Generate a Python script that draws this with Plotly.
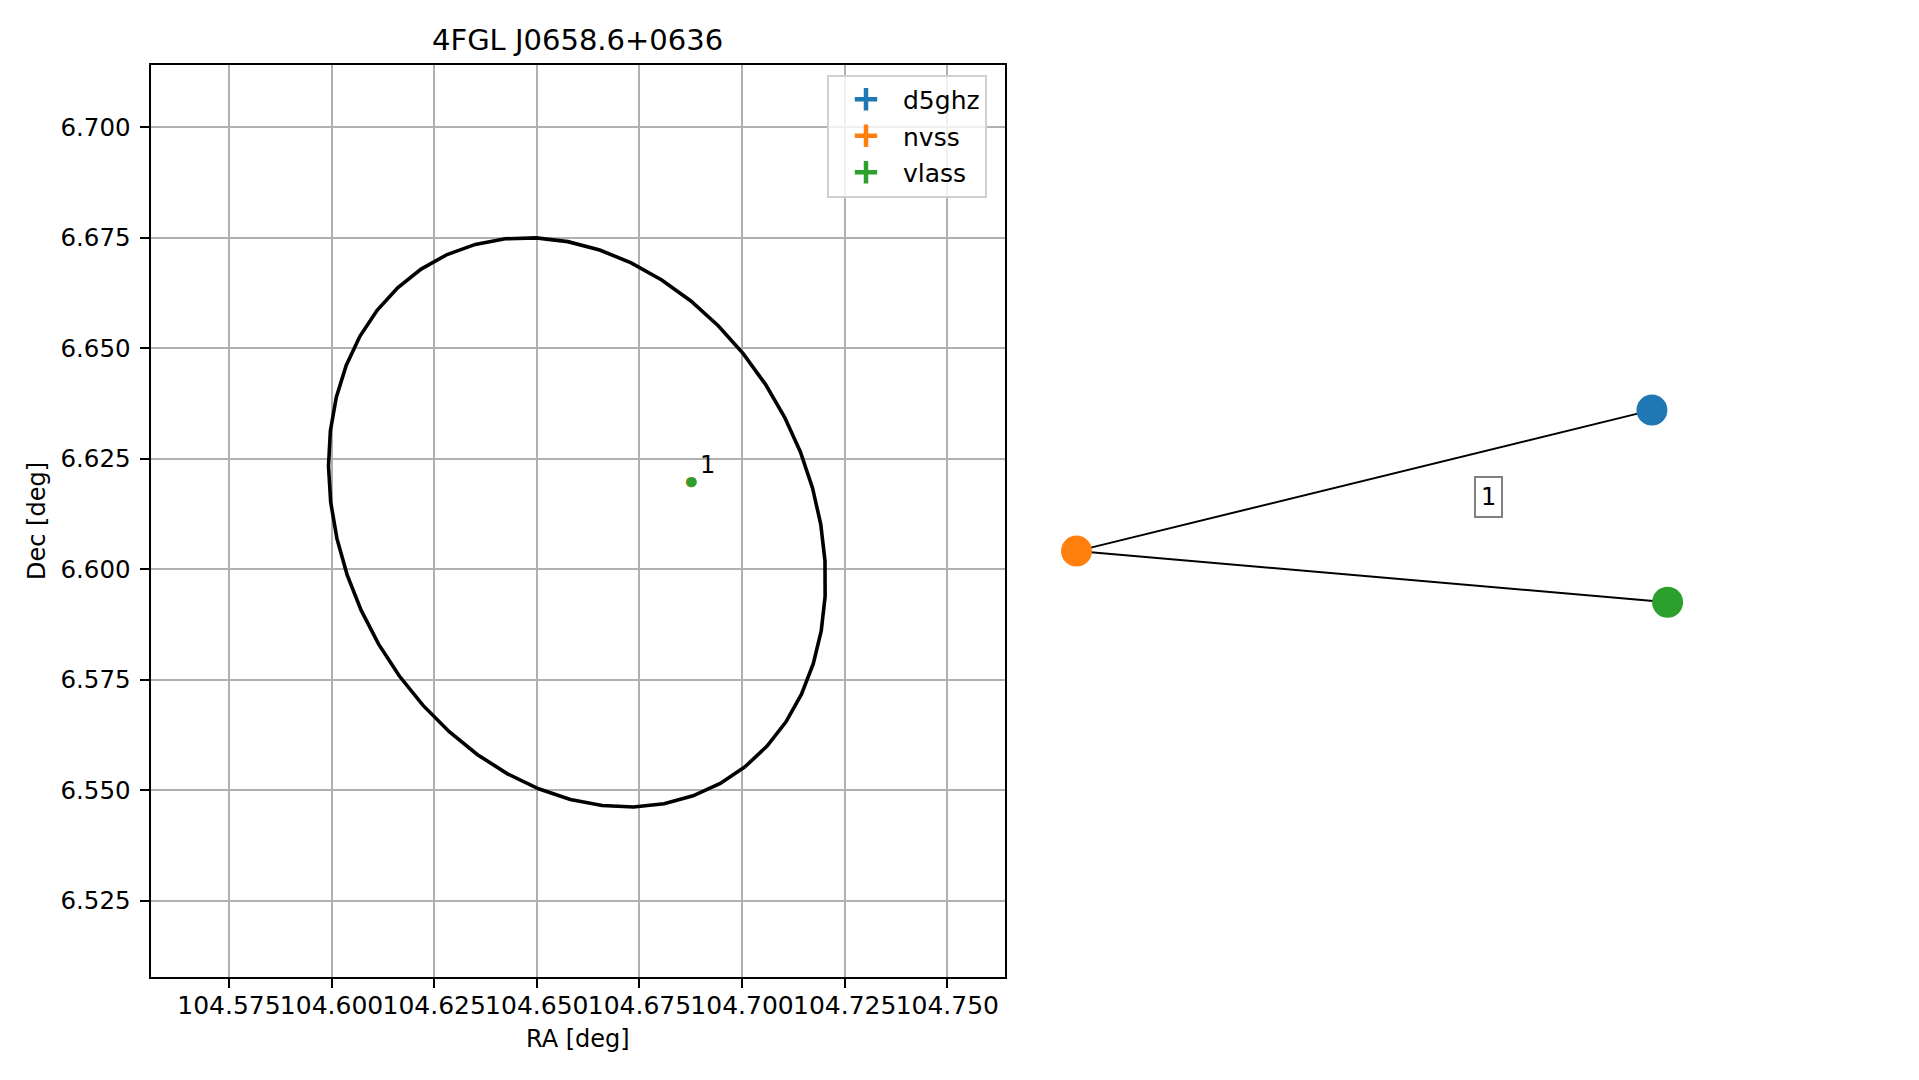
import numpy as np
import plotly.graph_objects as go

W, H = 1919, 1080
OFF = 8  # default page body margin
FW, FH = W - 2 * OFF, H - 2 * OFF
FONT = "DejaVu Sans"

# ---------------- data ----------------
title_text = "4FGL J0658.6+0636"

# 4FGL uncertainty ellipse (deg)
ell_ra = 104.6598
ell_dec = 6.6106
ell_semi_major = 0.0688
ell_semi_minor = 0.0555
ell_angle_deg = -53.5
ell_n_points = 50

src_names = ["d5ghz", "nvss", "vlass"]
src_ra = [104.6877, 104.6875, 104.6877]
src_dec = [6.6197, 6.6197, 6.6197]
src_colors = ["#1f77b4", "#ff7f0e", "#2ca02c"]
src_label = "1"

x_ticks = [104.575, 104.600, 104.625, 104.650, 104.675, 104.700, 104.725, 104.750]
x_tick_text = ["104.575", "104.600", "104.625", "104.650", "104.675", "104.700", "104.725", "104.750"]
y_ticks = [6.525, 6.550, 6.575, 6.600, 6.625, 6.650, 6.675, 6.700]
y_tick_text = ["6.525", "6.550", "6.575", "6.600", "6.625", "6.650", "6.675", "6.700"]
x_range = [104.5559, 104.7640]
y_range = [6.5078, 6.7141]

# association graph (layout positions)
node_names = ["d5ghz", "nvss", "vlass"]
node_x = [0.947, -1.0, 1.0]
node_y = [0.321, -0.156, -0.329]
node_colors = ["#1f77b4", "#ff7f0e", "#2ca02c"]
edges = [("nvss", "d5ghz"), ("nvss", "vlass")]
edge_label = "1"
edge_label_x = 0.395
edge_label_y = 0.026

# ---------------- figure ----------------
fig = go.Figure()

# ellipse outline
t = np.linspace(0, 2 * np.pi, ell_n_points)
phi = np.deg2rad(ell_angle_deg)
ex = ell_ra + ell_semi_major * np.cos(t) * np.cos(phi) - ell_semi_minor * np.sin(t) * np.sin(phi)
ey = ell_dec + ell_semi_major * np.cos(t) * np.sin(phi) + ell_semi_minor * np.sin(t) * np.cos(phi)
fig.add_trace(go.Scatter(x=ex, y=ey, mode="lines", line=dict(color="black", width=3.6),
                         showlegend=False, hoverinfo="skip", xaxis="x", yaxis="y"))

# source points
for name, ra, dec, col in zip(src_names, src_ra, src_dec, src_colors):
    fig.add_trace(go.Scatter(x=[ra], y=[dec], mode="markers",
                             marker=dict(color=col, size=10, line=dict(width=0)),
                             showlegend=False, name=name, xaxis="x", yaxis="y"))
# legend entries (errorbar-like cross)
for name, col in zip(src_names, src_colors):
    fig.add_trace(go.Scatter(x=[None], y=[None], mode="markers", name=name, legendgroup=name,
                             marker=dict(symbol="cross-thin", size=24, color=col,
                                         line=dict(width=4.5, color=col)),
                             xaxis="x", yaxis="y"))

# graph edges
for a, b in edges:
    i, j = node_names.index(a), node_names.index(b)
    fig.add_trace(go.Scatter(x=[node_x[i], node_x[j]], y=[node_y[i], node_y[j]], mode="lines",
                             line=dict(color="black", width=2), showlegend=False,
                             hoverinfo="skip", xaxis="x2", yaxis="y2"))
# graph nodes
fig.add_trace(go.Scatter(x=node_x, y=node_y, mode="markers",
                         marker=dict(color=node_colors, size=31, line=dict(width=0)),
                         text=node_names, showlegend=False, xaxis="x2", yaxis="y2"))

axis_common = dict(
    showgrid=True, gridcolor="#b0b0b0", gridwidth=2,
    showline=True, mirror=True, linecolor="black", linewidth=2,
    ticks="outside", ticklen=9, tickwidth=2, tickcolor="black",
    tickangle=0, zeroline=False,
)


def px_x(p):
    return (p - OFF) / FW


def px_y(p):
    return 1 - (p - OFF) / FH


fig.update_layout(
    width=FW, height=FH,
    margin=dict(l=0, r=0, t=0, b=0),
    paper_bgcolor="white", plot_bgcolor="white",
    font=dict(family=FONT, size=24, color="black"),
    xaxis=dict(domain=[px_x(150.5), px_x(1004.8)], range=x_range,
               tickvals=x_ticks, ticktext=x_tick_text, anchor="y",
               ticklabelstandoff=-4, tickfont=dict(family=FONT, size=25, color="black"),
               **axis_common),
    yaxis=dict(domain=[px_y(976.7), px_y(64.9)], range=y_range,
               tickvals=y_ticks, ticktext=y_tick_text, anchor="x",
               ticklabelstandoff=4, tickfont=dict(family=FONT, size=24.5, color="black"),
               **axis_common),
    xaxis2=dict(domain=[px_x(1017.4), px_x(1726.7)], range=[-1.2, 1.2], visible=False, anchor="y2"),
    yaxis2=dict(domain=[px_y(859.7), px_y(150.3)], range=[-1.2, 1.2], visible=False, anchor="x2"),
    legend=dict(x=px_x(827), y=px_y(74.5), xanchor="left", yanchor="top",
                bgcolor="rgba(255,255,255,0.8)", bordercolor="#d0d0d0", borderwidth=2,
                font=dict(family=FONT, size=25, color="black"), tracegroupgap=1,
                itemwidth=64),
    showlegend=True,
)

annotations = [
    dict(text=title_text, x=px_x(577.6), y=px_y(40.4), xref="paper", yref="paper",
         showarrow=False, font=dict(family=FONT, size=29, color="black"),
         xanchor="center", yanchor="middle"),
    dict(text="RA [deg]", x=px_x(577.6), y=px_y(1039), xref="paper", yref="paper",
         showarrow=False, font=dict(family=FONT, size=24, color="black"),
         xanchor="center", yanchor="middle"),
    dict(text="Dec [deg]", x=px_x(37), y=px_y(521), xref="paper", yref="paper",
         showarrow=False, textangle=-90, font=dict(family=FONT, size=24, color="black"),
         xanchor="center", yanchor="middle"),
    dict(text=src_label, x=src_ra[-1], y=src_dec[-1], xref="x", yref="y",
         showarrow=False, xshift=15.5, yshift=17, font=dict(family=FONT, size=24, color="black"),
         xanchor="center", yanchor="middle"),
    dict(text=edge_label, x=edge_label_x, y=edge_label_y, xref="x2", yref="y2",
         showarrow=False, font=dict(family=FONT, size=24, color="black"),
         bgcolor="white", bordercolor="#808080", borderwidth=2, borderpad=5,
         xanchor="center", yanchor="middle"),
]
fig.update_layout(annotations=annotations)

fig.write_html("out.html")
